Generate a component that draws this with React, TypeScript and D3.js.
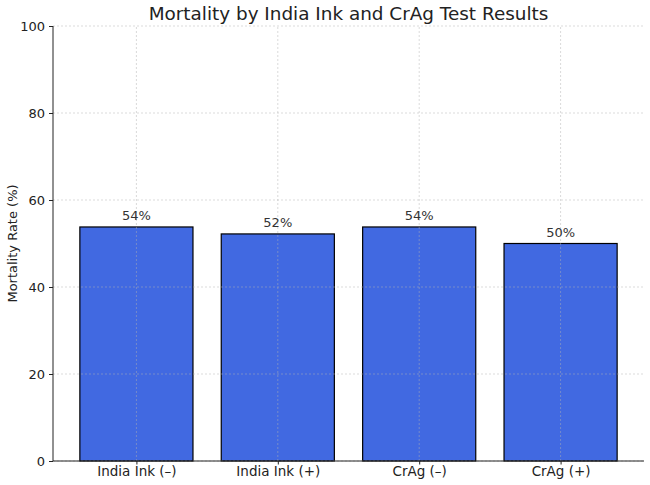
import { useEffect, useRef } from "react";
import * as d3 from "d3";

const categories = ["India Ink (–)", "India Ink (+)", "CrAg (–)", "CrAg (+)"];
const mortality = [53.8, 52.2, 53.8, 50.0];
const yTicks = [0, 20, 40, 60, 80, 100];

export default function App() {
  const ref = useRef<SVGSVGElement>(null);
  useEffect(() => {
    if (!ref.current) return;
    const svg = d3.select(ref.current);
    svg.selectAll("*").remove();
    const w = 650;
    const h = 485;
    const m = { left: 53, right: 6, top: 26, bottom: 24 };
    const font = "DejaVu Sans, sans-serif";

    // matplotlib-like band: width 0.8 with 5% margins
    const x = d3.scaleLinear().domain([-0.59, categories.length - 1 + 0.59]).range([m.left, w - m.right]);
    const y = d3.scaleLinear().domain([0, 100]).range([h - m.bottom, m.top]);
    const bw = x(0.8) - x(0);

    const data = categories.map((c, i) => ({ c, i, v: mortality[i] }));

    svg.selectAll("rect.bar")
      .data(data)
      .join("rect")
      .attr("class", "bar")
      .attr("x", (d) => x(d.i) - bw / 2)
      .attr("y", (d) => y(d.v))
      .attr("width", bw)
      .attr("height", (d) => y(0) - y(d.v))
      .attr("fill", "#4169e1")
      .attr("stroke", "#000")
      .attr("stroke-width", 1.2);

    // grid
    const grid = svg.append("g").attr("stroke", "#b0b0b0").attr("stroke-opacity", 0.6)
      .attr("stroke-dasharray", "2,2").attr("stroke-width", 0.8);
    grid.selectAll("line.gy").data(yTicks).join("line")
      .attr("x1", m.left).attr("x2", w - m.right)
      .attr("y1", (d) => y(d)).attr("y2", (d) => y(d));
    grid.selectAll("line.gx").data(data).join("line")
      .attr("x1", (d) => x(d.i)).attr("x2", (d) => x(d.i))
      .attr("y1", y(0)).attr("y2", y(100));

    // axes
    svg.append("g")
      .attr("transform", `translate(${m.left},0)`)
      .call(d3.axisLeft(y).tickValues(yTicks).tickSize(4).tickPadding(4))
      .call((g) => g.select(".domain").attr("d", `M-0,${y(100)}V${y(0)}`).attr("stroke", "#222"))
      .call((g) => g.selectAll(".tick line").attr("stroke", "#222"))
      .call((g) => g.selectAll("text").attr("font-family", font).attr("font-size", 13).attr("fill", "#222"));

    svg.append("g")
      .attr("transform", `translate(0,${y(0)})`)
      .call(d3.axisBottom(x).tickValues(data.map((d) => d.i)).tickFormat((d) => categories[+d]).tickSize(3.5).tickPadding(2))
      .call((g) => g.select(".domain").attr("d", `M${m.left},0H${w - m.right}`).attr("stroke", "#222"))
      .call((g) => g.selectAll(".tick line").attr("stroke", "#222"))
      .call((g) => g.selectAll("text").attr("font-family", font).attr("font-size", 13.5).attr("fill", "#222"));

    // value labels
    svg.selectAll("text.val")
      .data(data)
      .join("text")
      .attr("class", "val")
      .attr("x", (d) => x(d.i))
      .attr("y", (d) => y(d.v) - 7)
      .attr("text-anchor", "middle")
      .attr("font-family", font)
      .attr("font-size", 13)
      .attr("fill", "#333")
      .text((d) => `${Math.round(d.v)}%`);

    svg.append("text")
      .attr("x", (m.left + w - m.right) / 2)
      .attr("y", 20)
      .attr("text-anchor", "middle")
      .attr("font-family", font)
      .attr("font-size", 18.4)
      .attr("fill", "#222")
      .text("Mortality by India Ink and CrAg Test Results");

    svg.append("text")
      .attr("transform", `translate(17,${(y(0) + y(100)) / 2}) rotate(-90)`)
      .attr("text-anchor", "middle")
      .attr("font-family", font)
      .attr("font-size", 13)
      .attr("fill", "#222")
      .text("Mortality Rate (%)");
  }, []);
  return <svg ref={ref} width={650} height={485} style={{ position: "absolute", left: 0, top: 0 }} />;
}
